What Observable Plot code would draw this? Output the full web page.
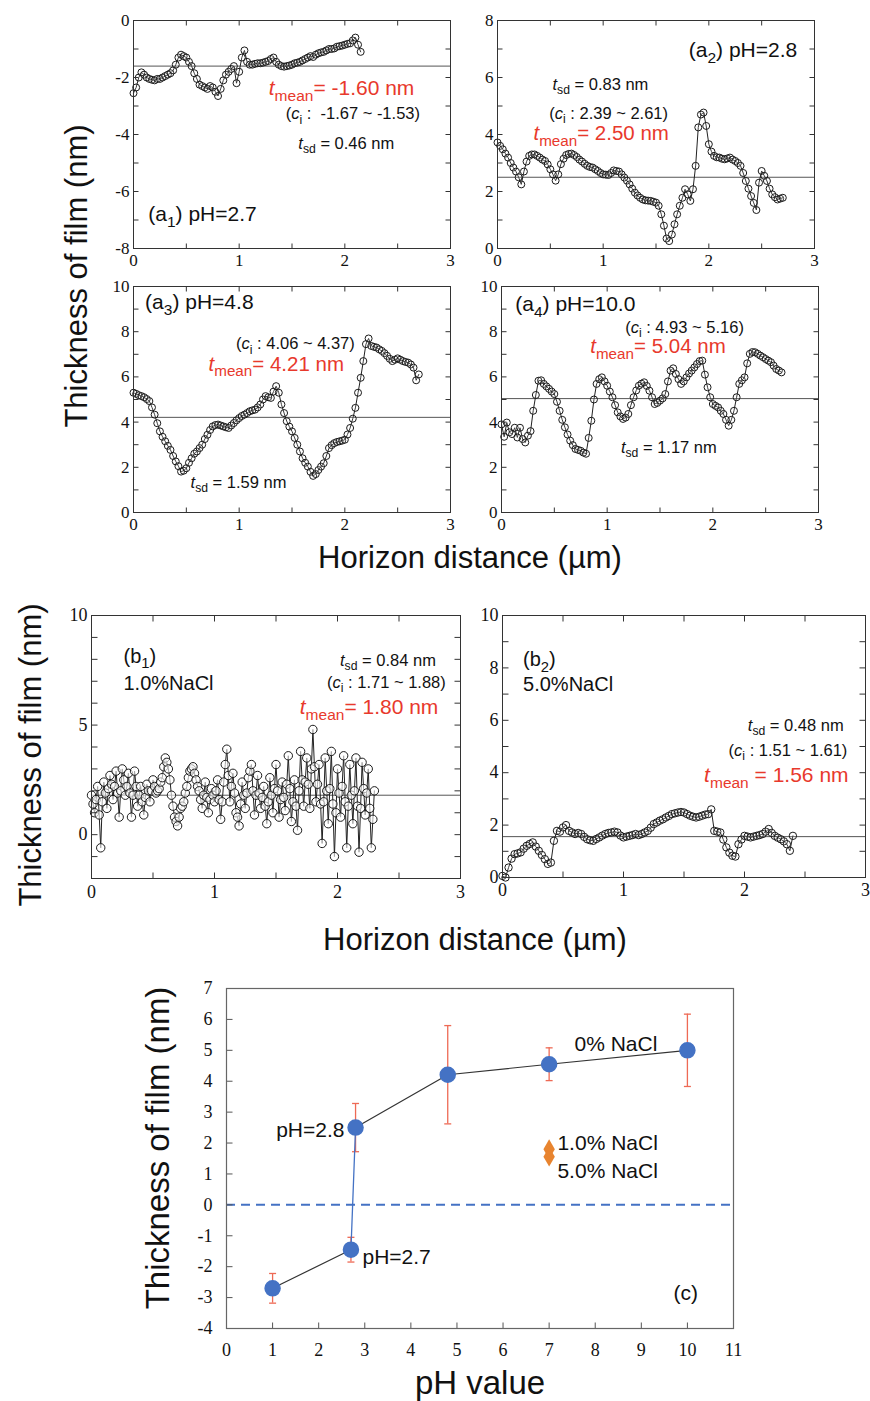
<!DOCTYPE html>
<html><head><meta charset="utf-8">
<script src="https://cdn.jsdelivr.net/npm/d3@7"></script>
<script src="https://cdn.jsdelivr.net/npm/@observablehq/plot@0.6"></script>
<style>
body{margin:0;background:#fff;}
#fig{position:relative;width:870px;height:1401px;overflow:hidden;background:#fff;}
.pl{position:absolute;overflow:visible;}
.ttl{position:absolute;white-space:nowrap;color:#111;font-family:"Liberation Sans",Arial,sans-serif;line-height:1;}
</style></head><body><div id="fig"></div>
<script>
// ---------------- DATA ----------------
const sampleStep = 0.025;   // µm between profile samples (a1–a4, b2)
const sampleStepB1 = 0.0125; // µm between samples in b1

const a1Thickness = [-2.55,-2.35,-2.0,-1.82,-1.9,-2.0,-2.05,-2.08,-2.1,-2.05,-2.05,-2.0,-1.95,-1.9,-1.85,-1.75,-1.55,-1.3,-1.2,-1.25,-1.3,-1.45,-1.6,-1.85,-2.05,-2.25,-2.3,-2.35,-2.4,-2.3,-2.35,-2.5,-2.65,-2.4,-2.1,-1.9,-1.8,-1.7,-1.6,-2.2,-1.8,-1.3,-1.05,-1.45,-1.55,-1.55,-1.52,-1.5,-1.5,-1.48,-1.45,-1.42,-1.35,-1.3,-1.45,-1.55,-1.6,-1.62,-1.6,-1.58,-1.55,-1.5,-1.48,-1.45,-1.4,-1.35,-1.3,-1.25,-1.28,-1.2,-1.15,-1.12,-1.1,-1.05,-1.0,-1.0,-0.98,-0.92,-0.9,-0.88,-0.85,-0.82,-0.8,-0.7,-0.6,-0.85,-1.1];
const a2Thickness = [3.72,3.6,3.48,3.33,3.19,3.0,2.84,2.7,2.5,2.25,2.7,3.05,3.25,3.3,3.3,3.25,3.19,3.12,3.07,2.95,2.78,2.6,2.38,2.6,2.96,3.15,3.28,3.32,3.33,3.28,3.21,3.12,3.05,2.97,2.9,2.86,2.84,2.78,2.72,2.65,2.6,2.59,2.58,2.65,2.74,2.72,2.7,2.6,2.49,2.38,2.25,2.1,1.96,1.86,1.78,1.72,1.69,1.68,1.67,1.64,1.61,1.5,1.2,0.8,0.35,0.26,0.49,0.85,1.2,1.5,1.78,2.08,1.9,1.67,2.08,2.9,4.25,4.7,4.77,4.3,3.66,3.4,3.25,3.2,3.19,3.15,3.13,3.16,3.19,3.12,3.07,3.0,2.9,2.65,2.37,2.1,1.84,1.6,1.35,2.31,2.72,2.55,2.37,2.1,1.9,1.8,1.72,1.75,1.78];
const a3Thickness = [5.3,5.25,5.19,5.15,5.1,5.02,4.93,4.65,4.33,3.95,3.59,3.35,3.15,2.95,2.77,2.5,2.26,2.05,1.81,1.85,1.96,2.2,2.4,2.6,2.7,2.85,3.0,3.25,3.44,3.65,3.81,3.87,3.89,3.85,3.81,3.77,3.74,3.85,3.96,4.08,4.18,4.27,4.33,4.4,4.48,4.52,4.55,4.65,4.78,5.0,5.15,5.1,5.07,5.35,5.59,5.3,4.78,4.4,4.04,3.8,3.59,3.3,3.0,2.7,2.4,2.2,2.03,1.8,1.62,1.7,1.88,2.03,2.18,2.5,2.85,2.98,3.07,3.12,3.15,3.18,3.22,3.45,3.74,4.15,4.63,5.3,5.96,6.7,7.45,7.7,7.37,7.33,7.3,7.22,7.15,7.05,6.93,6.8,6.7,6.76,6.82,6.76,6.7,6.66,6.63,6.55,6.41,5.85,6.11];
const a4Thickness = [3.9,3.35,3.98,3.55,3.47,3.75,3.32,3.75,3.25,3.1,3.4,3.6,4.5,5.2,5.83,5.85,5.69,5.58,5.47,5.35,5.24,4.9,4.5,4.1,3.77,3.45,3.18,2.98,2.81,2.77,2.73,2.65,2.6,3.3,4.06,5.0,5.69,5.9,5.98,5.8,5.61,5.35,5.1,4.75,4.43,4.25,4.14,4.2,4.36,4.75,5.1,5.4,5.61,5.7,5.76,5.6,5.39,5.1,4.8,4.85,4.95,5.05,5.24,5.8,6.28,6.38,6.13,5.9,5.69,5.8,5.98,6.15,6.28,6.42,6.57,6.7,6.72,6.1,5.54,5.1,4.8,4.72,4.65,4.5,4.36,4.1,3.84,4.1,4.5,5.1,5.69,5.85,5.98,6.6,7.02,7.1,7.09,7.02,6.94,6.87,6.79,6.72,6.65,6.5,6.35,6.28,6.2];
const b1Thickness = [1.8,1.4,1.0,1.6,2.2,0.9,-0.6,1.5,2.4,1.9,1.2,2.1,2.7,2.3,1.6,2.2,2.9,1.9,0.8,2.0,3.0,2.5,1.8,2.2,2.8,1.9,0.8,1.8,2.9,2.2,1.3,1.8,2.2,1.5,0.9,1.7,2.3,2.0,1.5,2.0,2.5,2.2,1.9,2.0,2.1,2.4,2.6,3.1,3.5,3.3,3.0,2.5,1.8,1.3,0.8,0.6,0.4,0.8,1.2,1.3,1.5,1.9,2.2,2.6,2.9,3.0,3.1,2.8,2.5,2.2,2.0,1.6,1.2,1.8,2.4,1.7,1.0,1.6,2.1,1.8,1.5,2.0,2.5,1.6,0.7,1.5,2.4,3.2,3.9,2.7,1.5,2.2,2.8,1.9,1.0,0.8,0.4,1.4,2.4,1.8,1.2,1.9,2.6,2.9,3.2,2.0,0.9,1.8,2.7,1.9,1.2,1.7,2.2,1.3,0.5,1.5,2.6,1.8,1.0,2.1,3.2,2.0,0.8,1.6,2.4,1.7,1.1,2.3,3.6,2.1,0.6,1.5,2.5,1.3,0.2,2.0,3.8,2.5,1.3,2.4,3.5,2.3,1.2,3.0,4.8,3.1,1.5,2.3,3.2,1.4,-0.4,1.5,3.5,2.0,0.5,2.1,3.8,1.4,-1.0,1.0,3.0,1.9,0.8,2.2,3.6,1.5,-0.6,1.3,3.2,1.8,0.5,2.0,3.5,1.3,-0.8,1.2,3.3,2.1,0.9,1.9,3.0,1.2,-0.6,0.7,2.0];
const b2Thickness = [0.06,0.0,0.38,0.72,0.89,0.92,0.96,1.1,1.21,1.28,1.34,1.18,1.02,0.86,0.7,0.52,0.57,1.4,1.78,1.75,1.91,2.0,1.78,1.72,1.66,1.7,1.66,1.55,1.46,1.42,1.4,1.47,1.53,1.6,1.66,1.7,1.72,1.75,1.72,1.6,1.53,1.56,1.59,1.62,1.66,1.62,1.66,1.72,1.78,1.9,2.04,2.1,2.17,2.22,2.29,2.35,2.42,2.45,2.48,2.5,2.48,2.42,2.36,2.32,2.29,2.32,2.36,2.4,2.42,2.6,1.78,1.75,1.72,1.45,1.15,0.95,0.83,0.8,1.27,1.45,1.59,1.56,1.53,1.56,1.59,1.62,1.66,1.75,1.85,1.7,1.59,1.52,1.46,1.38,1.27,1.02,1.59];

const a1Mean = -1.60, a1CI = ["-1.67", "-1.53"], a1Sd = 0.46;
const a2Mean = 2.50,  a2CI = ["2.39", "2.61"],  a2Sd = 0.83;
const a3Mean = 4.21,  a3CI = ["4.06", "4.37"],  a3Sd = 1.59;
const a4Mean = 5.04,  a4CI = ["4.93", "5.16"],  a4Sd = 1.17;
const b1Mean = 1.80,  b1CI = ["1.71", "1.88"],  b1Sd = 0.84;
const b2Mean = 1.56,  b2CI = ["1.51", "1.61"],  b2Sd = 0.48;

const aXTicks = [0, 1, 2, 3];
const aXMinor = [0.5, 1.5, 2.5];
const a1YTicks = [-8, -6, -4, -2, 0];
const a1YMinor = [-7, -5, -3, -1];
const a2YTicks = [0, 2, 4, 6, 8];
const a2YMinor = [1, 3, 5, 7];
const a34YTicks = [0, 2, 4, 6, 8, 10];
const a34YMinor = [1, 3, 5, 7, 9];
const b1YTicks = [0, 5, 10];
const b1YMinor = [-1, 1, 2, 3, 4, 6, 7, 8, 9];
const b2YTicks = [0, 2, 4, 6, 8, 10];
const b2YMinor = [1, 3, 5, 7, 9];

// panel (c)
const cPH      = [1, 2.7, 2.8, 4.8, 7, 10];
const cMean    = [-2.7, -1.45, 2.5, 4.21, 4.55, 5.0];
const cSd      = [0.48, 0.4, 0.78, 1.59, 0.53, 1.17];
const naclPH   = [7, 7];
const naclMean = [1.80, 1.56];
const naclLabels = ["1.0% NaCl", "5.0% NaCl"];
const cXTicks = [0, 1, 2, 3, 4, 5, 6, 7, 8, 9, 10, 11];
const cYTicks = [-4, -3, -2, -1, 0, 1, 2, 3, 4, 5, 6, 7];

// ---------------- HELPERS ----------------
const RED = "#e8392c", BLUE = "#4472c4", ERR = "#ee6a55", ORANGE = "#e8842f";
const SANS = "Liberation Sans, Arial, sans-serif";
const SERIF = "Liberation Serif, Times New Roman, serif";
const toPoints = (ys, step) => ys.map((y, i) => ({x: +(i * step).toFixed(4), y}));
const fmt = v => v.toFixed(2);

function note(x, y, s, {size = 17, color = "#111", anchor = "start"} = {}) {
  return Plot.text([{x, y, s}], {x: "x", y: "y", text: "s", textAnchor: anchor,
    fontFamily: SANS, fontSize: size, fill: color});
}

// render *italic* and _{subscript} markup inside text marks
function richify(svg) {
  const ns = "http://www.w3.org/2000/svg";
  svg.querySelectorAll("text").forEach(t => {
    const s = t.textContent;
    if (!/\*|_\{/.test(s)) return;
    const g = t.closest("[font-size]");
    const fs = g ? parseFloat(g.getAttribute("font-size")) : 16;
    t.textContent = "";
    const re = /\*([^*]+)\*|_\{([^}]+)\}|([^*_]+)/g;
    let m, shifted = false;
    while ((m = re.exec(s))) {
      const ts = document.createElementNS(ns, "tspan");
      if (m[2] !== undefined) {
        ts.textContent = m[2];
        ts.setAttribute("font-size", (fs * 0.74).toFixed(1));
        ts.setAttribute("dy", (fs * 0.26).toFixed(1));
        shifted = true;
      } else {
        ts.textContent = m[1] !== undefined ? m[1] : m[3];
        if (m[1] !== undefined) ts.setAttribute("font-style", "italic");
        if (shifted) { ts.setAttribute("dy", (-fs * 0.26).toFixed(1)); shifted = false; }
      }
      t.appendChild(ts);
    }
  });
}

// inward tick glyphs drawn as custom dot symbols sitting on the frame edges
const tickGlyph = (ux, uy) => ({draw(ctx, size) {
  const l = Math.sqrt(size / Math.PI);
  ctx.moveTo(0, 0); ctx.lineTo(ux * l, uy * l);
}});
const TICK_UP = tickGlyph(0, -1), TICK_DOWN = tickGlyph(0, 1), TICK_RIGHT = tickGlyph(1, 0), TICK_LEFT = tickGlyph(-1, 0);

function inwardAxes({xDomain, yDomain, xMajor, xMinor, yMajor, yMinor, tick, padX, padY, mirror = true, color = "#333"}) {
  const [x0, x1] = xDomain, [y0, y1] = yDomain;
  const xs = xMajor.concat(xMinor || []), ys = yMajor.concat(yMinor || []);
  const st = {fill: "none", stroke: color, strokeWidth: 1};
  const marks = [
    Plot.dot(xs, {x: d => d, y: () => y0, symbol: TICK_UP, r: tick, ...st}),
    Plot.dot(ys, {y: d => d, x: () => x0, symbol: TICK_RIGHT, r: tick, ...st}),
    Plot.axisX(xMajor, {anchor: "bottom", tickSize: 0, tickPadding: padX, tickFormat: d => String(d), label: null}),
    Plot.axisY(yMajor, {anchor: "left", tickSize: 0, tickPadding: padY, tickFormat: d => String(d), label: null})
  ];
  if (mirror) {
    marks.push(Plot.dot(xs, {x: d => d, y: () => y1, symbol: TICK_DOWN, r: tick, ...st}));
    marks.push(Plot.dot(ys, {y: d => d, x: () => x1, symbol: TICK_LEFT, r: tick, ...st}));
  }
  return marks;
}

const fig = document.getElementById("fig");
function place(svg, left, top) {
  svg.classList.add("pl");
  svg.style.left = left + "px";
  svg.style.top = top + "px";
  richify(svg);
  fig.appendChild(svg);
}

function profilePanel(p) {
  const mL = 45, mR = 6, mT = 8, mB = 30;
  const data = toPoints(p.values, p.step || sampleStep);
  const svg = Plot.plot({
    width: p.R - p.L + mL + mR, height: p.B - p.T + mT + mB,
    marginLeft: mL, marginRight: mR, marginTop: mT, marginBottom: mB,
    x: {domain: [0, 3], label: null}, y: {domain: p.yDomain, label: null},
    style: {fontFamily: SERIF, fontSize: p.font + "px", color: "#111", background: "transparent", overflow: "visible"},
    marks: [
      Plot.ruleY([p.mean], {stroke: "#555", strokeWidth: 1}),
      Plot.line(data, {x: "x", y: "y", stroke: "#222", strokeWidth: 1}),
      Plot.dot(data, {x: "x", y: "y", r: p.r, stroke: "#1a1a1a", strokeWidth: 1, fill: "white", fillOpacity: p.fillOpacity ?? 0.12}),
      ...inwardAxes({xDomain: [0, 3], yDomain: p.yDomain, xMajor: aXTicks, xMinor: aXMinor, yMajor: p.yMajor, yMinor: p.yMinor,
        tick: p.tick, padX: p.padX, padY: p.padY}),
      Plot.frame({stroke: "#333", strokeWidth: 1}),
      ...p.notes
    ]
  });
  place(svg, p.L - mL, p.T - mT);
}

// ---------------- PANELS (a) ----------------
profilePanel({L: 133, R: 450, T: 20, B: 248, yDomain: [-8, 0], yMajor: a1YTicks, yMinor: a1YMinor,
  values: a1Thickness, mean: a1Mean, r: 3.5, tick: 5, font: 17, padX: 5, padY: 4,
  notes: [
    note(1.28, -2.39, `*t*_{mean}= ${fmt(a1Mean)} nm`, {size: 21, color: RED}),
    note(1.44, -3.28, `(*c*_{i} :  ${a1CI[0]} ~ ${a1CI[1]})`, {size: 16.5}),
    note(1.56, -4.32, `*t*_{sd} = ${fmt(a1Sd)} nm`, {size: 16.5}),
    note(0.14, -6.8, "(a_{1}) pH=2.7", {size: 21})
  ]});
profilePanel({L: 497, R: 814, T: 20, B: 248, yDomain: [0, 8], yMajor: a2YTicks, yMinor: a2YMinor,
  values: a2Thickness, mean: a2Mean, r: 3.5, tick: 5, font: 17, padX: 5, padY: 4,
  notes: [
    note(1.81, 6.95, "(a_{2}) pH=2.8", {size: 21}),
    note(0.52, 5.75, `*t*_{sd} = ${fmt(a2Sd)} nm`, {size: 16.5}),
    note(0.49, 4.74, `(*c*_{i} : ${a2CI[0]} ~ ${a2CI[1]})`, {size: 16.5}),
    note(0.34, 4.03, `*t*_{mean}= ${fmt(a2Mean)} nm`, {size: 20.5, color: RED})
  ]});
profilePanel({L: 133, R: 450, T: 286, B: 512, yDomain: [0, 10], yMajor: a34YTicks, yMinor: a34YMinor,
  values: a3Thickness, mean: a3Mean, r: 3.5, tick: 5, font: 17, padX: 5, padY: 4,
  notes: [
    note(0.11, 9.29, "(a_{3}) pH=4.8", {size: 21}),
    note(0.97, 7.45, `(*c*_{i} : ${a3CI[0]} ~ ${a3CI[1]})`, {size: 16.5}),
    note(0.71, 6.56, `*t*_{mean}= ${fmt(a3Mean)} nm`, {size: 20.5, color: RED}),
    note(0.54, 1.33, `*t*_{sd} = ${fmt(a3Sd)} nm`, {size: 16.5})
  ]});
profilePanel({L: 501, R: 818, T: 286, B: 512, yDomain: [0, 10], yMajor: a34YTicks, yMinor: a34YMinor,
  values: a4Thickness, mean: a4Mean, r: 3.5, tick: 5, font: 17, padX: 5, padY: 4,
  notes: [
    note(0.13, 9.2, "(a_{4}) pH=10.0", {size: 21}),
    note(1.17, 8.18, `(*c*_{i} : ${a4CI[0]} ~ ${a4CI[1]})`, {size: 16.5}),
    note(0.84, 7.33, `*t*_{mean}= ${fmt(a4Mean)} nm`, {size: 20.5, color: RED}),
    note(1.13, 2.88, `*t*_{sd} = ${fmt(a4Sd)} nm`, {size: 16.5})
  ]});

// ---------------- PANELS (b) ----------------
profilePanel({L: 91, R: 460, T: 615, B: 878, yDomain: [-2, 10], yMajor: b1YTicks, yMinor: b1YMinor,
  values: b1Thickness, step: sampleStepB1, mean: b1Mean, r: 4.2, tick: 6, font: 18, padX: 7, padY: 4, fillOpacity: 0.6,
  notes: [
    note(0.26, 8.12, "(b_{1})", {size: 20}),
    note(0.26, 6.9, "1.0%NaCl", {size: 20}),
    note(2.80, 7.95, `*t*_{sd} = ${fmt(b1Sd)} nm`, {anchor: "end", size: 16.5}),
    note(2.88, 6.94, `(*c*_{i} : ${b1CI[0]} ~ ${b1CI[1]})`, {anchor: "end", size: 16.5}),
    note(2.82, 5.8, `*t*_{mean}= ${fmt(b1Mean)} nm`, {size: 21, color: RED, anchor: "end"})
  ]});
profilePanel({L: 502, R: 865, T: 615, B: 877, yDomain: [0, 10], yMajor: b2YTicks, yMinor: b2YMinor,
  values: b2Thickness, mean: b2Mean, r: 3.7, tick: 6, font: 18, padX: 6, padY: 4,
  notes: [
    note(0.17, 8.3, "(b_{2})", {size: 20}),
    note(0.17, 7.35, "5.0%NaCl", {size: 20}),
    note(2.82, 5.8, `*t*_{sd} = ${fmt(b2Sd)} nm`, {anchor: "end", size: 16.5}),
    note(2.85, 4.85, `(*c*_{i} : ${b2CI[0]} ~ ${b2CI[1]})`, {anchor: "end", size: 16.5}),
    note(2.86, 3.89, `*t*_{mean} = ${fmt(b2Mean)} nm`, {size: 21, color: RED, anchor: "end"})
  ]});

// ---------------- PANEL (c) ----------------
(function () {
  const L = 226, R = 733, T = 988, B = 1328;
  const mL = 45, mR = 10, mT = 10, mB = 40;
  const rows = cPH.map((ph, i) => ({ph, m: cMean[i], sd: cSd[i]}));
  const nacl = naclPH.map((ph, i) => ({ph, m: naclMean[i], label: naclLabels[i]}));
  const cap = {draw(ctx, size) { const w = Math.sqrt(size / Math.PI); ctx.moveTo(-w, 0); ctx.lineTo(w, 0); }};
  const svg = Plot.plot({
    width: R - L + mL + mR, height: B - T + mT + mB,
    marginLeft: mL, marginRight: mR, marginTop: mT, marginBottom: mB,
    x: {domain: [0, 11], label: null}, y: {domain: [-4, 7], label: null},
    style: {fontFamily: SERIF, fontSize: "18px", color: "#111", background: "transparent", overflow: "visible"},
    marks: [
      Plot.ruleY([0], {stroke: BLUE, strokeWidth: 2, strokeDasharray: "9,6"}),
      Plot.ruleX(rows, {x: "ph", y1: d => d.m - d.sd, y2: d => d.m + d.sd, stroke: ERR, strokeWidth: 1.3}),
      Plot.dot(rows, {x: "ph", y: d => d.m + d.sd, symbol: cap, r: 3.5, stroke: ERR, strokeWidth: 1.3, fill: "none"}),
      Plot.dot(rows, {x: "ph", y: d => d.m - d.sd, symbol: cap, r: 3.5, stroke: ERR, strokeWidth: 1.3, fill: "none"}),
      Plot.line(rows.filter(d => d.ph <= 2.7), {x: "ph", y: "m", stroke: "#333", strokeWidth: 1.2}),
      Plot.line(rows.filter(d => d.ph >= 2.8), {x: "ph", y: "m", stroke: "#333", strokeWidth: 1.2}),
      Plot.line(rows.filter(d => d.ph === 2.7 || d.ph === 2.8), {x: "ph", y: "m", stroke: BLUE, strokeWidth: 1.3}),
      Plot.dot(rows, {x: "ph", y: "m", r: 7.5, fill: BLUE, stroke: BLUE}),
      Plot.dot(nacl, {x: "ph", y: "m", symbol: "diamond", r: 6, fill: ORANGE}),
      ...inwardAxes({xDomain: [0, 11], yDomain: [-4, 7], xMajor: cXTicks, yMajor: cYTicks, tick: 6, padX: 15, padY: 14,
        mirror: false, color: "#555"}),
      Plot.frame({stroke: "#666", strokeWidth: 1.2}),
      note(7.55, 5.2, "0% NaCl", {size: 21}),
      note(2.56, 2.42, "pH=2.8", {size: 21, anchor: "end"}),
      note(2.95, -1.7, "pH=2.7", {size: 21}),
      Plot.text(nacl, {x: d => d.ph + 0.18, y: (d, i) => d.m + (i === 0 ? 0.2 : -0.48), text: "label",
        textAnchor: "start", fontFamily: SANS, fontSize: 21, fill: "#111"}),
      note(9.7, -2.86, "(c)", {size: 21})
    ]
  });
  place(svg, L - mL, T - mT);
})();

// ---------------- SHARED AXIS TITLES ----------------
function title(text, cx, cy, size, rotate) {
  const d = document.createElement("div");
  d.className = "ttl";
  d.textContent = text;
  d.style.fontSize = size + "px";
  d.style.left = cx + "px";
  d.style.top = cy + "px";
  d.style.transform = "translate(-50%,-50%)" + (rotate ? " rotate(-90deg)" : "");
  fig.appendChild(d);
}
title("Thickness of film (nm)", 76, 276, 31, true);
title("Horizon distance (µm)", 470, 557, 31, false);
title("Thickness of film (nm)", 30, 755, 31, true);
title("Horizon distance (µm)", 475, 939, 31, false);
title("Thickness of film (nm)", 157, 1148, 33, true);
title("pH value", 480, 1382, 33, false);
</script></body></html>
